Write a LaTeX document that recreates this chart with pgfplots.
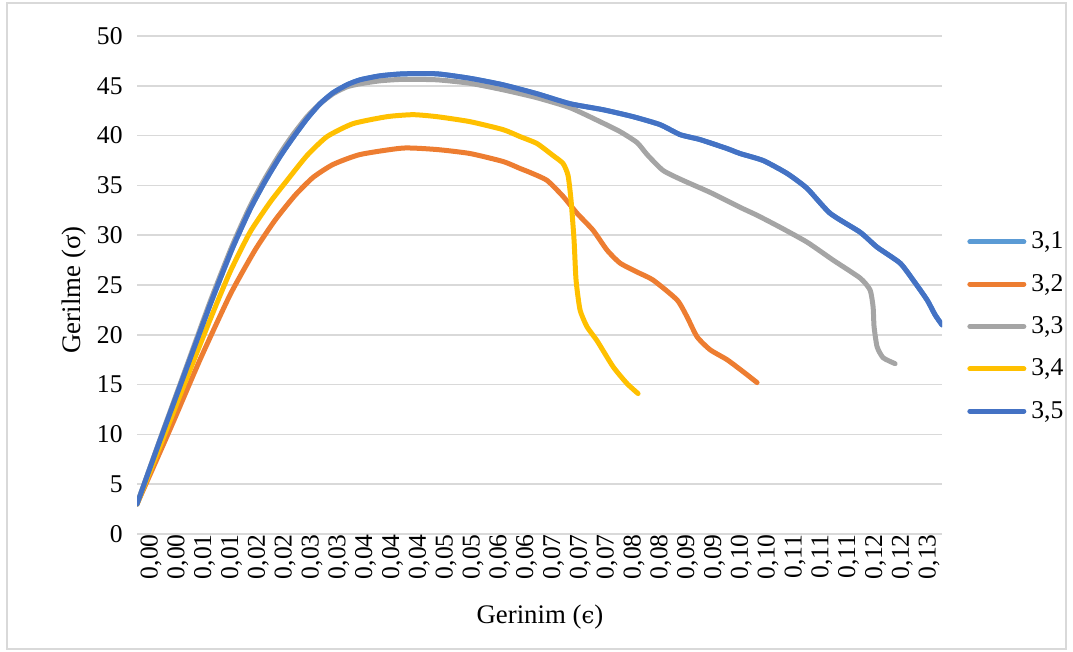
\documentclass[border=0pt]{standalone}
\usepackage{pgfplots}
\pgfplotsset{compat=1.18}
\usepackage{fontspec}
\setmainfont{Liberation Serif}
\newfontfamily\symfont{DejaVu Serif}

\definecolor{c31}{HTML}{5B9BD5}
\definecolor{c32}{HTML}{ED7D31}
\definecolor{c33}{HTML}{A5A5A5}
\definecolor{c34}{HTML}{FFC000}
\definecolor{c35}{HTML}{4472C4}
\definecolor{gridgray}{HTML}{D9D9D9}

% strain position (in label steps) vs. stress
\pgfplotstableread{
x y
0 3.0
0.857 9.4
1.789 16.2
2.721 23.0
3.541 28.6
4.212 32.6
4.771 35.4
5.330 37.9
5.814 39.8
6.336 41.7
6.821 43.2
7.305 44.3
7.827 45.1
8.312 45.6
9.057 46.0
9.914 46.2
11.181 46.2
12.411 45.75
13.641 45.1
14.909 44.2
16.139 43.2
17.368 42.6
18.487 41.9
19.493 41.1
20.239 40.1
20.984 39.6
21.990 38.7
22.475 38.2
23.332 37.5
24.227 36.2
24.972 34.7
25.829 32.2
26.948 30.3
27.581 28.8
28.438 27.2
28.923 25.5
29.445 23.5
29.743 22.0
30.0 21.0
}\tblA

\pgfplotstableread{
x y
0 3.0
1.230 10.5
2.348 17.5
3.466 24.0
4.398 28.5
5.143 31.5
5.889 34.0
6.560 35.8
7.305 37.1
8.312 38.1
9.914 38.75
11.181 38.6
12.411 38.2
13.641 37.4
14.275 36.7
14.648 36.3
15.281 35.5
15.878 33.9
16.399 32.2
16.996 30.5
17.518 28.5
18.002 27.2
18.636 26.3
19.232 25.5
20.127 23.5
20.499 21.8
20.872 19.8
21.357 18.5
21.990 17.5
22.587 16.3
23.109 15.2
}\tblB

\pgfplotstableread{
x y
0 3.0
0.857 9.5
1.789 16.4
2.721 23.3
3.541 28.9
4.212 32.9
4.771 35.7
5.330 38.2
5.814 40.1
6.336 41.9
6.821 43.2
7.305 44.2
7.827 44.9
8.312 45.2
9.057 45.5
9.914 45.65
11.181 45.6
12.411 45.25
13.641 44.6
14.909 43.8
16.139 42.8
17.257 41.4
18.002 40.4
18.636 39.3
19.009 38.1
19.605 36.5
20.350 35.5
21.357 34.3
22.475 32.8
23.109 32.0
23.966 30.8
24.972 29.3
25.941 27.5
26.948 25.7
27.320 24.5
27.432 22.8
27.469 20.8
27.581 18.8
27.805 17.7
28.252 17.1
}\tblC

\pgfplotstableread{
x y
0 3.0
0.857 8.8
1.789 15.2
2.721 21.5
3.466 26.3
4.212 30.3
4.957 33.3
5.591 35.5
6.336 38.0
7.082 39.9
8.051 41.2
9.318 41.9
10.287 42.1
11.181 41.9
12.411 41.4
13.641 40.6
14.275 39.9
14.909 39.2
15.505 38.0
15.878 37.2
16.064 36.0
16.176 33.5
16.288 29.5
16.362 25.5
16.511 22.5
16.772 20.8
17.145 19.4
17.741 16.8
18.263 15.1
18.673 14.1
}\tblD

\begin{document}
\begin{tikzpicture}[font=\fontsize{12.8}{15}\selectfont]
\begin{axis}[
  at={(68.5pt,59pt)}, anchor=south west,
  scale only axis, width=402.5pt, height=249pt,
  xmin=0, xmax=30, ymin=0, ymax=50,
  /pgf/number format/assume math mode=true,
  xtick={0,...,29},
  xticklabels={{0,00},{0,00},{0,01},{0,01},{0,02},{0,02},{0,03},{0,03},{0,04},{0,04},{0,04},{0,05},{0,05},{0,06},{0,06},{0,07},{0,07},{0,07},{0,08},{0,08},{0,09},{0,09},{0,10},{0,10},{0,11},{0,11},{0,11},{0,12},{0,12},{0,13}},
  ytick={0,5,...,50},
  ymajorgrids, grid style={color=gridgray, line width=0.75pt},
  axis line style={draw=none}, tick style={draw=none},
  xticklabel style={rotate=90, anchor=east, inner sep=0pt},
  yticklabel style={anchor=east, inner sep=0pt},
  x tick label style={yshift=-7pt},
  y tick label style={xshift=-7pt},
  every axis x label/.style={at={(axis description cs:0.5006,-0.1667)}, anchor=center, font=\fontsize{13.4}{16}\selectfont},
  every axis y label/.style={at={(axis description cs:-0.0783,0.49)}, rotate=90, anchor=center, font=\fontsize{13.4}{16}\selectfont},
  xlabel={Gerinim ({\symfont\fontsize{11.5}{14}\selectfont ϵ})},
  ylabel={Gerilme (σ)},
  legend style={draw=none, fill=none, at={(axis description cs:1.031,0.4167)}, anchor=west,
    inner sep=0pt, row sep=6.2pt, nodes={inner sep=2.5pt}},
  legend cell align=left,
  legend image code/.code={\draw[#1, line width=2.5pt, line cap=round] (0pt,0pt) -- (27pt,0pt);},
  every axis plot/.append style={line width=2.5pt, line join=round, line cap=round, smooth, tension=0.35},
]
\addplot[c31] table {\tblA};
\addlegendentry{3,1}
\addplot[c32] table {\tblB};
\addlegendentry{3,2}
\addplot[c33] table {\tblC};
\addlegendentry{3,3}
\addplot[c34] table {\tblD};
\addlegendentry{3,4}
\addplot[c35] table {\tblA};
\addlegendentry{3,5}
\end{axis}
\draw[gridgray, line width=0.75pt] (3.5pt,1.5pt) rectangle (533pt,324.5pt);
\pgfresetboundingbox
\path (0pt,0pt) rectangle (536.5pt,326pt);
\end{tikzpicture}
\end{document}
